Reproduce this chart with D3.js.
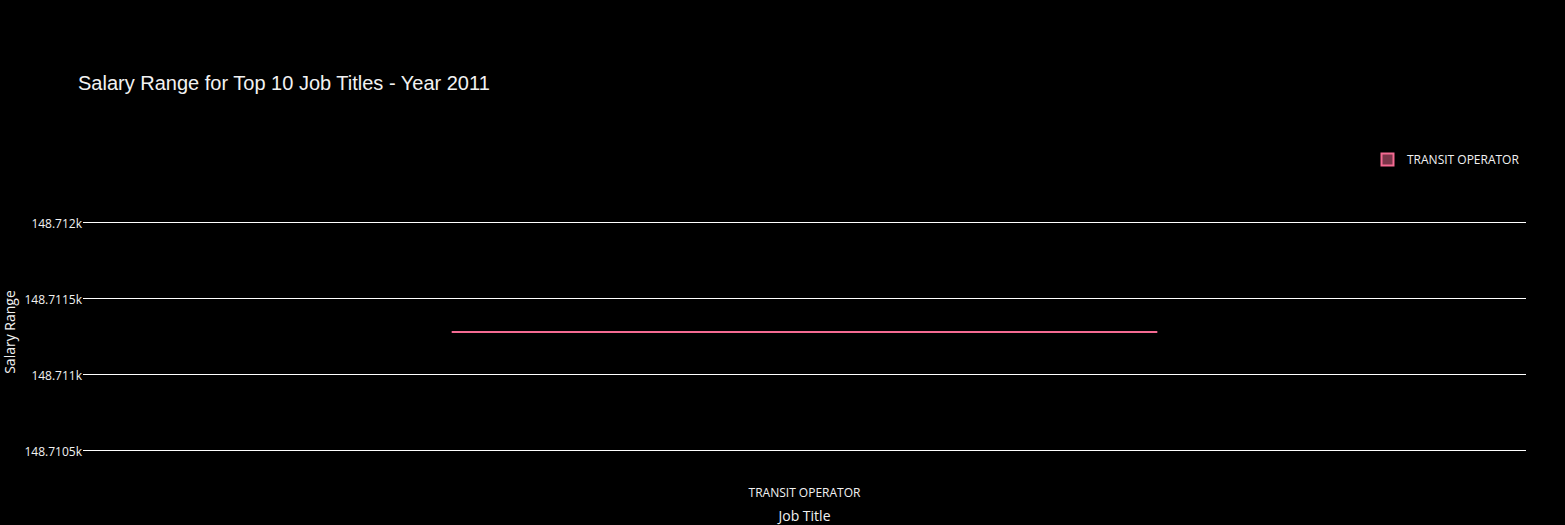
<!DOCTYPE html>
<html>
<head>
<meta charset="utf-8">
<script src="https://cdn.jsdelivr.net/npm/d3@7"></script>
<style>
  html, body { margin: 0; padding: 0; background: #000; }
  svg { display: block; }
</style>
</head>
<body>
<svg id="chart" width="1565" height="525"></svg>
<script>
// ---- data ----
const categories = ["TRANSIT OPERATOR"];
const salaryValues = [148711.275];
const yTicks = [148710.5, 148711, 148711.5, 148712];
const yTickLabels = ["148.7105k", "148.711k", "148.7115k", "148.712k"];
const chartTitle = "Salary Range for Top 10 Job Titles - Year 2011";
const xTitle = "Job Title";
const yTitle = "Salary Range";
const seriesColor = "#f46a92";

// ---- layout ----
const W = 1565, H = 525;
const plot = { left: 83, right: 1526, top: 184, bottom: 488 };

const svg = d3.select("#chart");
svg.append("rect").attr("width", W).attr("height", H).attr("fill", "#000");

const x = d3.scaleBand().domain(categories).range([plot.left, plot.right]).paddingInner(0).paddingOuter(0);
const y = d3.scaleLinear().domain([148710.5, 148712]).range([450, 222]);

// gridlines
svg.append("g").selectAll("line").data(yTicks).join("line")
  .attr("x1", plot.left).attr("x2", plot.right)
  .attr("y1", d => y(d)).attr("y2", d => y(d))
  .attr("stroke", "#ffffff").attr("stroke-width", 1)
  .attr("shape-rendering", "crispEdges");

// y axis labels
const yAxis = d3.axisLeft(y).tickValues(yTicks)
  .tickFormat((d, i) => yTickLabels[i]).tickSize(0).tickPadding(1);
const gy = svg.append("g").attr("transform", `translate(${plot.left},0)`).call(yAxis);
gy.select(".domain").remove();
gy.selectAll("text").attr("fill", "#f2f2f2").attr("dy", "0.42em")
  .style("font-family", "'Open Sans', sans-serif").style("font-size", "12px");

// x axis labels
const xAxis = d3.axisBottom(x).tickSize(0).tickPadding(0);
const gx = svg.append("g").attr("transform", `translate(0,${plot.bottom})`).call(xAxis);
gx.select(".domain").remove();
gx.selectAll("text").attr("fill", "#f2f2f2")
  .style("font-family", "'Open Sans', sans-serif").style("font-size", "12px");

// box (degenerate: single value)
const boxFrac = 0.489;
const data = categories.map((c, i) => ({ cat: c, v: salaryValues[i] }));
const boxes = svg.append("g").selectAll("g").data(data).join("g");
boxes.append("rect")
  .attr("x", d => x(d.cat) + x.bandwidth() * (1 - boxFrac) / 2)
  .attr("width", x.bandwidth() * boxFrac)
  .attr("y", d => Math.round(y(d.v))).attr("height", 0)
  .attr("fill", seriesColor).attr("fill-opacity", 0.5);
boxes.append("line")
  .attr("x1", d => x(d.cat) + x.bandwidth() * (1 - boxFrac) / 2)
  .attr("x2", d => x(d.cat) + x.bandwidth() * (1 + boxFrac) / 2)
  .attr("y1", d => Math.round(y(d.v))).attr("y2", d => Math.round(y(d.v)))
  .attr("stroke", seriesColor).attr("stroke-width", 2);

// title
svg.append("text").attr("x", 78).attr("y", 90)
  .text(chartTitle)
  .attr("fill", "#f2f2f2")
  .style("font-family", "'Liberation Sans', Arial, sans-serif").style("font-size", "20px");

// axis titles
svg.append("text").attr("x", (plot.left + plot.right) / 2).attr("y", 521)
  .attr("text-anchor", "middle").text(xTitle)
  .attr("fill", "#f2f2f2")
  .style("font-family", "'Open Sans', sans-serif").style("font-size", "14px");
svg.append("text")
  .attr("transform", `translate(15,${(y(148710.5) + y(148712)) / 2 - 4}) rotate(-90)`)
  .attr("text-anchor", "middle").text(yTitle)
  .attr("fill", "#f2f2f2")
  .style("font-family", "'Open Sans', sans-serif").style("font-size", "14px");

// legend
const lg = svg.append("g").attr("transform", "translate(1381,153)");
lg.append("rect").attr("x", 0.5).attr("y", 0.5).attr("width", 12).attr("height", 12)
  .attr("fill", seriesColor).attr("fill-opacity", 0.5)
  .attr("stroke", seriesColor).attr("stroke-width", 2);
lg.append("text").attr("x", 26).attr("y", 11).text(categories[0])
  .attr("fill", "#f2f2f2")
  .style("font-family", "'Open Sans', sans-serif").style("font-size", "12px");
</script>
</body>
</html>
